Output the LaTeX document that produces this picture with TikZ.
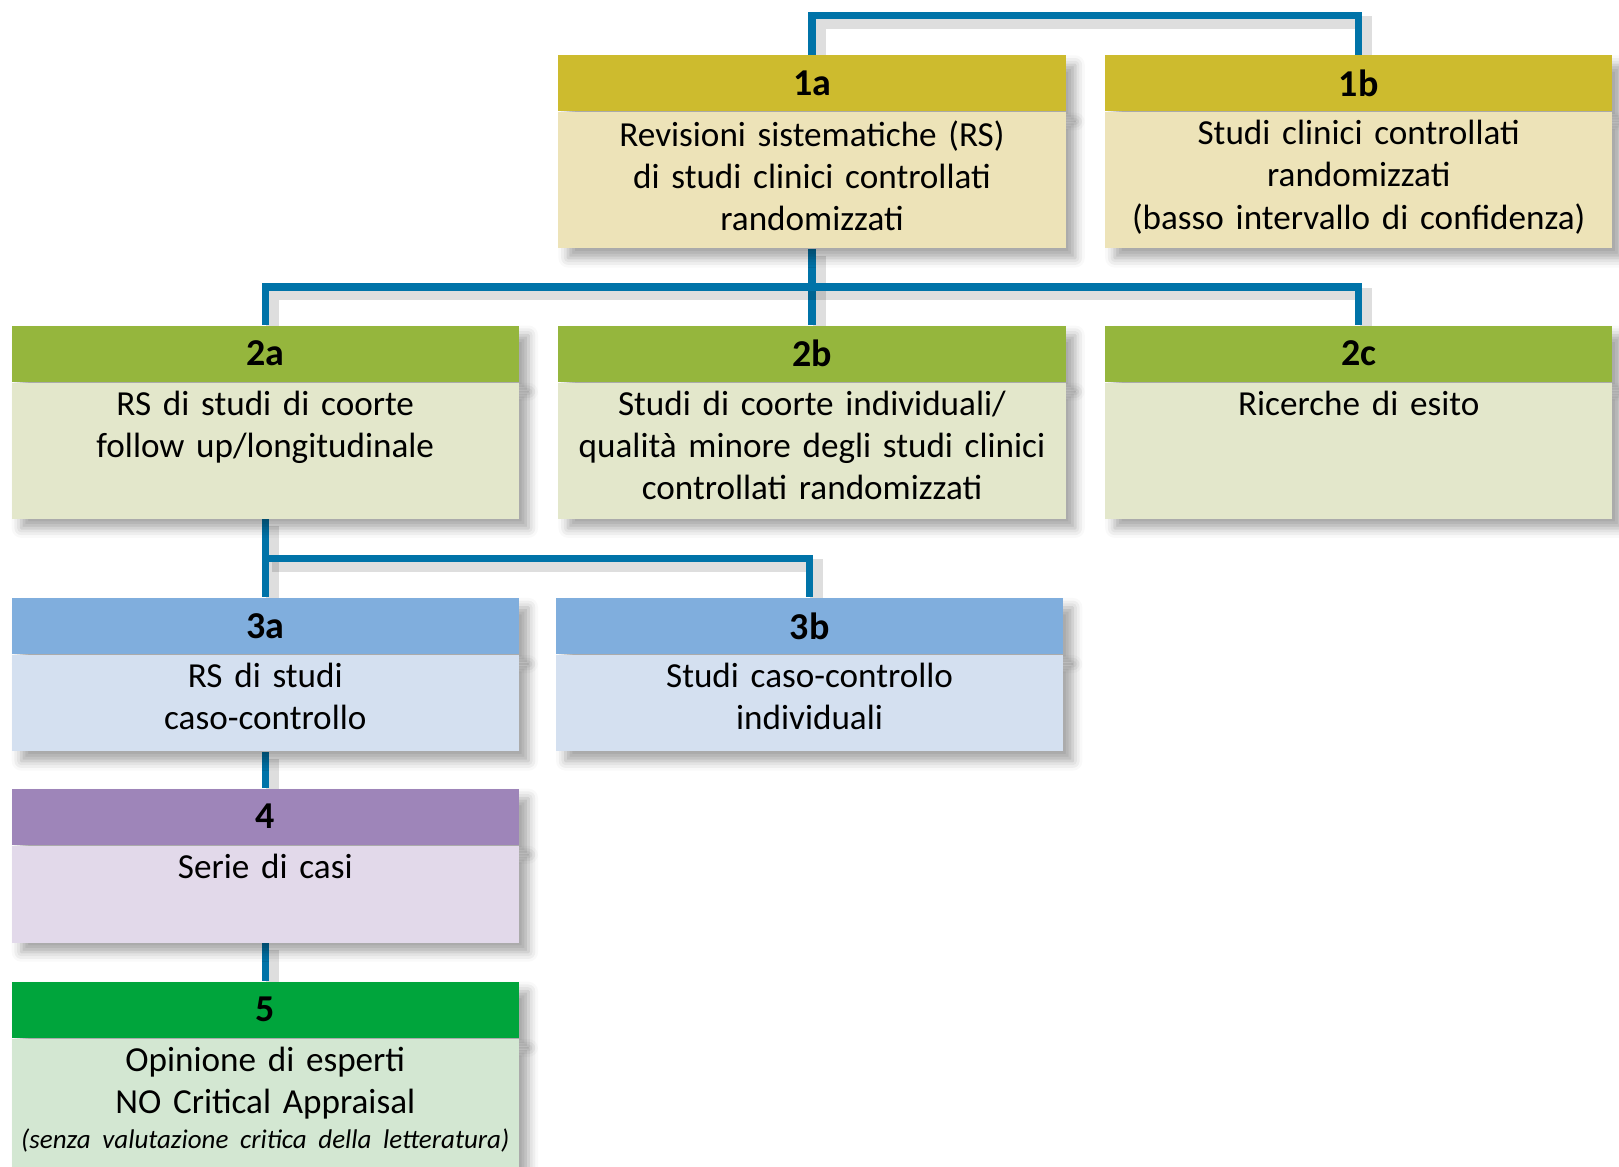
\documentclass[tikz,border=0pt]{standalone}
\usepackage{fontspec}
\setmainfont{Carlito}
\usetikzlibrary{positioning, calc, backgrounds, shadows.blur}
\definecolor{linkblue}{RGB}{0,115,168}
\definecolor{headone}{RGB}{205,187,46}
\definecolor{bodyone}{RGB}{237,227,184}
\definecolor{headtwo}{RGB}{149,182,61}
\definecolor{bodytwo}{RGB}{227,231,203}
\definecolor{headthree}{RGB}{128,174,221}
\definecolor{bodythree}{RGB}{212,224,240}
\definecolor{headfour}{RGB}{158,133,185}
\definecolor{bodyfour}{RGB}{226,217,234}
\definecolor{headfive}{RGB}{0,165,60}
\definecolor{bodyfive}{RGB}{211,231,210}

\begin{document}
\begin{tikzpicture}[
    boxshade/.style={blur shadow={shadow xshift=0.12cm, shadow yshift=-0.12cm, shadow blur radius=0.12cm, shadow opacity=35}},
    head/.style={rectangle, minimum width=6.34cm, minimum height=0.70cm, inner sep=0pt, font=\fontsize{13.5}{15}\selectfont\bfseries, boxshade},
    body/.style={rectangle, minimum width=6.34cm, inner sep=0pt, boxshade},
    txt/.style={inner sep=0pt, text width=6.3cm, align=center, font=\fontsize{12.5}{15}\selectfont},
    link/.style={line width=2.6pt, draw=linkblue,
        preaction={draw=black, draw opacity=0.13, line width=4.5pt, transform canvas={xshift=0.09cm, yshift=-0.09cm}}}
]
\useasboundingbox (0,0) rectangle (20.2375,-14.5875);

% Level 1
\node (h1a) [head, fill=headone, anchor=north] at (10.15,-0.684) {1a};
\node (b1a) [body, fill=bodyone, minimum height=1.70cm, below=0pt of h1a] {};
\node (t1a) [txt, below=0.1cm of h1a] {Revisioni sistematiche (RS)\\di studi clinici controllati\\randomizzati};
\node (h1b) [head, fill=headone, right=0.48cm of h1a] {1b};
\node (b1b) [body, fill=bodyone, minimum height=1.70cm, below=0pt of h1b] {};
\node (t1b) [txt, below=0.1cm of h1b] {Studi clinici controllati\\randomizzati\\(basso intervallo di confidenza)};

% Level 2
\node (h2b) [head, fill=headtwo, below=0.95cm of b1a] {2b};
\node (b2b) [body, fill=bodytwo, minimum height=1.70cm, below=0pt of h2b] {};
\node (t2b) [txt, below=0.1cm of h2b] {Studi di coorte individuali/\\qualità minore degli studi clinici\\controllati randomizzati};
\node (h2a) [head, fill=headtwo, left=0.48cm of h2b] {2a};
\node (b2a) [body, fill=bodytwo, minimum height=1.70cm, below=0pt of h2a] {};
\node (t2a) [txt, below=0.1cm of h2a] {RS di studi di coorte\\follow up/longitudinale};
\node (h2c) [head, fill=headtwo, right=0.48cm of h2b] {2c};
\node (b2c) [body, fill=bodytwo, minimum height=1.70cm, below=0pt of h2c] {};
\node (t2c) [txt, below=0.1cm of h2c] {Ricerche di esito};

% Level 3
\node (h3a) [head, fill=headthree, below=0.976cm of b2a] {3a};
\node (b3a) [body, fill=bodythree, minimum height=1.206cm, below=0pt of h3a] {};
\node (t3a) [txt, below=0.1cm of h3a] {RS di studi\\caso-controllo};
\node (h3b) [head, fill=headthree, right=0.45cm of h3a] {3b};
\node (b3b) [body, fill=bodythree, minimum height=1.206cm, below=0pt of h3b] {};
\node (t3b) [txt, below=0.1cm of h3b] {Studi caso-controllo\\individuali};

% Level 4
\node (h4) [head, fill=headfour, below=0.45cm of b3a] {4};
\node (b4) [body, fill=bodyfour, minimum height=1.21cm, below=0pt of h4] {};
\node (t4) [txt, below=0.1cm of h4] {Serie di casi};

% Level 5
\node (h5) [head, fill=headfive, below=0.476cm of b4] {5};
\node (b5) [body, fill=bodyfive, minimum height=3cm, below=0pt of h5] {};
\node (t5) [txt, below=0.1cm of h5] {Opinione di esperti\\NO Critical Appraisal\\[-2.5pt]\mbox{\fontsize{9.6}{12}\selectfont\itshape (senza valutazione critica della letteratura)}};

% Connectors
\begin{scope}[on background layer]
\draw [link] (h1a.north) -- ++(0,0.49) -| (h1b.north);
\draw [link] (b1a.south) -- (h2b.north);
\draw [link] (h2a.north) |- ($(b1a.south)!0.5!(h2b.north)$) -| (h2c.north);
\draw [link] (b2a.south) -- (h3a.north);
\draw [link] ($(b2a.south)!0.5!(h3a.north)$) -| (h3b.north);
\draw [link] (b3a.south) -- (h4.north);
\draw [link] (b4.south) -- (h5.north);
\end{scope}

\end{tikzpicture}
\end{document}
